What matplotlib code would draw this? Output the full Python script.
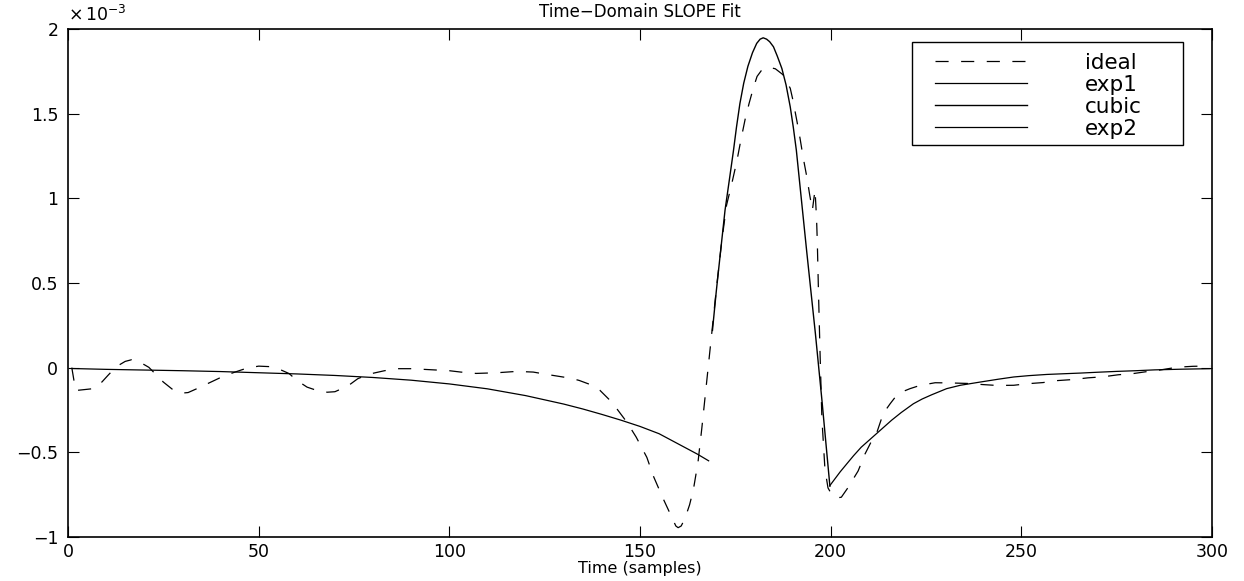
import matplotlib
matplotlib.use('Agg')
import matplotlib.pyplot as plt
from matplotlib.patches import Rectangle
from matplotlib.ticker import FuncFormatter

# all y values are in units of 1e-3
ideal_x = [1, 2, 4, 6.6, 8, 9, 10.5, 12.6, 15, 16.7, 18.9, 21.2, 23.3, 25, 27.5, 30, 31.5, 34, 37,
           40.6, 43.8, 47, 50, 53, 55, 58, 60, 62.7, 66, 68, 70, 73.4, 76, 79, 83, 86.5, 90, 95, 100,
           103, 107, 112.5, 117.7, 122, 125.6, 131.7, 134, 137, 139.5, 142, 144, 146.5, 149, 151.8,
           153.5, 156, 158.7, 159.4, 160, 160.8, 161.8, 163, 164, 165.2, 166.2, 167.5, 168.8, 170.1,
           171.4, 172.7, 174, 175.4, 176.5, 177.6, 178.6, 179.7, 180.7, 182, 183.6, 185.5, 187.5,
           189.4, 190.1, 191.2, 192, 192.8, 193.8, 194.5, 195.2, 195.9, 196.3, 196.5, 196.8, 197.2,
           197.7, 198.5, 199.3, 200.3, 201.5, 202.8, 204.5, 207.2, 209, 210.8, 212, 213.8, 215.6,
           216.9, 218.6, 220.8, 223.4, 227.4, 231, 235.7, 240, 243.6, 248, 251.5, 255.7, 259, 263.6,
           267.5, 271.4, 275.4, 279.3, 283, 286, 291, 295, 299.5]
ideal_y = [0.0, -0.135, -0.13, -0.124, -0.105, -0.082, -0.045, 0.005, 0.037, 0.047, 0.032, 0.002,
           -0.046, -0.085, -0.13, -0.15, -0.147, -0.122, -0.09, -0.052, -0.026, -0.002, 0.009, 0.006,
           -0.005, -0.035, -0.075, -0.115, -0.14, -0.145, -0.142, -0.108, -0.065, -0.038, -0.018,
           -0.006, -0.006, -0.012, -0.018, -0.026, -0.034, -0.03, -0.022, -0.026, -0.04, -0.062,
           -0.075, -0.1, -0.134, -0.19, -0.245, -0.32, -0.41, -0.53, -0.64, -0.77, -0.9, -0.935,
           -0.945, -0.935, -0.89, -0.81, -0.72, -0.56, -0.36, -0.08, 0.2, 0.48, 0.74, 0.96, 1.08,
           1.22, 1.35, 1.47, 1.56, 1.65, 1.72, 1.76, 1.775, 1.765, 1.73, 1.65, 1.58, 1.45, 1.35,
           1.24, 1.12, 1.02, 0.93, 1.05, 0.88, 0.74, 0.45, 0.1, -0.3, -0.6, -0.71, -0.75, -0.77,
           -0.765, -0.71, -0.61, -0.51, -0.43, -0.39, -0.27, -0.213, -0.175, -0.144, -0.124,
           -0.105, -0.089, -0.09, -0.093, -0.1, -0.105, -0.104, -0.095, -0.088, -0.077, -0.07,
           -0.06, -0.054, -0.042, -0.035, -0.023, -0.015, 0.003, 0.008, 0.01]

exp1_x = [1, 10, 20, 30, 40, 50, 60, 70, 80, 90, 100, 110, 120, 130, 135, 140, 145, 150, 155, 160,
          162.5, 165, 168]
exp1_y = [-0.005, -0.01, -0.014, -0.018, -0.023, -0.03, -0.037, -0.046, -0.058, -0.074, -0.096,
          -0.125, -0.165, -0.215, -0.244, -0.276, -0.31, -0.347, -0.39, -0.45, -0.48, -0.51, -0.55]

cubic_x = [169, 170, 171, 172.3, 173.5, 174.5, 175.3, 176.2, 177.2, 178.3, 179.5, 180.6, 181.5,
           182.3, 183.2, 184, 185, 186, 187.2, 188.3, 189.4, 190.2, 191, 193.7, 196, 197.7, 199.8]
cubic_y = [0.22, 0.45, 0.66, 0.93, 1.12, 1.28, 1.42, 1.56, 1.68, 1.78, 1.86, 1.915, 1.94, 1.948,
           1.94, 1.925, 1.895, 1.84, 1.767, 1.67, 1.54, 1.42, 1.284, 0.69, 0.2, -0.19, -0.7]

exp2_x = [199.8, 201, 202.5, 204.3, 206, 208, 210, 212, 214, 216, 218.5, 221.7, 224, 226.5, 230.4,
          234, 239.2, 244, 248, 252, 256.7, 261, 265.4, 270, 275, 280, 285, 292, 299.5]
exp2_y = [-0.696, -0.66, -0.615, -0.566, -0.52, -0.47, -0.43, -0.39, -0.35, -0.31, -0.265, -0.213,
          -0.185, -0.16, -0.124, -0.104, -0.085, -0.068, -0.055, -0.047, -0.04, -0.036, -0.032,
          -0.027, -0.022, -0.018, -0.013, -0.009, -0.006]

labels = ['ideal', 'exp1', 'cubic', 'exp2']
xticks = [0, 50, 100, 150, 200, 250, 300]
yticks = [-1, -0.5, 0, 0.5, 1, 1.5, 2]

W, H = 1244, 581
fig = plt.figure(figsize=(W / 100, H / 100), dpi=100)
ax = fig.add_axes([68 / W, 44 / H, 1144 / W, 508 / H])

h1, = ax.plot(ideal_x, ideal_y, color='black', lw=0.9, dashes=(10.5, 10))
h2, = ax.plot(exp1_x, exp1_y, color='black', lw=0.9)
h3, = ax.plot(cubic_x, cubic_y, color='black', lw=1.0)
h4, = ax.plot(exp2_x, exp2_y, color='black', lw=0.9)

ax.set_xlim(0, 300)
ax.set_ylim(-1, 2)
ax.set_xticks(xticks)
ax.set_yticks(yticks)
fmt = FuncFormatter(lambda v, p: f'{v:g}'.replace('-', '\u2212'))
ax.xaxis.set_major_formatter(fmt)
ax.yaxis.set_major_formatter(fmt)
ax.tick_params(direction='in', length=8, width=0.8, top=True, right=True,
               labelsize=12.5, pad=7)
ax.tick_params(axis='x', pad=4.5)
for s in ax.spines.values():
    s.set_linewidth(1.2)

ax.set_title('Time\u2212Domain SLOPE Fit', fontsize=12, pad=8.5)
ax.set_xlabel('Time (samples)', fontsize=11.5, labelpad=0)
ax.text(0, 1.008, r'$\times\,10^{-3}$', transform=ax.transAxes, ha='left', va='bottom',
        fontsize=12.5)

# legend frame drawn as box, entries placed inside
ax.add_patch(Rectangle((0.7378, 0.7717), 0.2369, 0.2033, transform=ax.transAxes,
                       facecolor='white', edgecolor='black', lw=1.0, zorder=4))
leg = ax.legend([h1, h2, h3, h4], labels, loc='upper left', bbox_to_anchor=(0.7579, 0.9527),
                frameon=False, fontsize=15.5, handlelength=4.28, handletextpad=2.7,
                labelspacing=0.09, borderpad=0, borderaxespad=0)
leg.set_zorder(5)

fig.savefig('out.png', dpi=100)
